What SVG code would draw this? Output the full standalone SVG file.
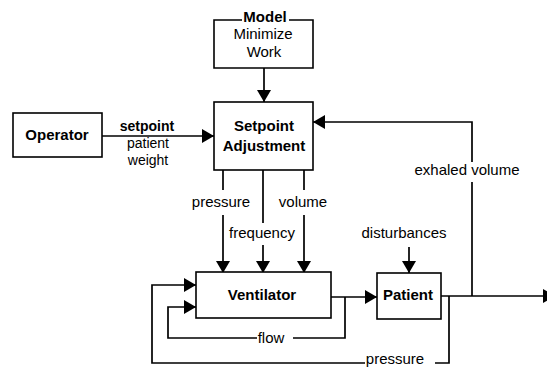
<svg xmlns="http://www.w3.org/2000/svg" width="547" height="367" viewBox="0 0 547 367">
<style>
text{font-family:"Liberation Sans",Arial,sans-serif;font-size:15px;fill:#000;text-anchor:middle}
.b{font-weight:bold}
.s{font-size:14px}
.box{fill:#fff;stroke:#000;stroke-width:1.6}
.ln{fill:none;stroke:#000;stroke-width:1.7}
</style>
<defs>
<marker id="ah" markerWidth="12" markerHeight="14" refX="12" refY="7" orient="auto" markerUnits="userSpaceOnUse">
<path d="M0,0 L12,7 L0,14 z" fill="#000"/>
</marker>
</defs>
<rect width="547" height="367" fill="#fff"/>
<g id="connectors">
<path class="ln" d="M264,68 V102" marker-end="url(#ah)"/>
<path class="ln" d="M102,136 H214" marker-end="url(#ah)"/>
<path class="ln" d="M223,170 V190 M223,215 V273" marker-end="url(#ah)"/>
<path class="ln" d="M263,170 V223 M263,245 V273" marker-end="url(#ah)"/>
<path class="ln" d="M304,170 V190 M304,215 V273" marker-end="url(#ah)"/>
<path class="ln" d="M331,297 H377" marker-end="url(#ah)"/>
<path class="ln" d="M409,247 V273" marker-end="url(#ah)"/>
<path class="ln" d="M345,297 V338 H293"/>
<path class="ln" d="M257,338 H168 V307 H196" marker-end="url(#ah)"/>
<path class="ln" d="M449,296 V363 H435"/>
<path class="ln" d="M365,363 H152 V285 H196" marker-end="url(#ah)"/>
<path class="ln" d="M441,296 H545"/>
<polygon points="543,289 555,296 543,303" fill="#000"/>
<path class="ln" d="M472,296 V182"/>
<path class="ln" d="M472,162 V122 H313" marker-end="url(#ah)"/>
<text x="147" y="131" class="b s">setpoint</text>
<text x="148" y="148" class="s">patient</text>
<text x="148" y="165" class="s">weight</text>
<text x="221" y="207">pressure</text>
<text x="262" y="238">frequency</text>
<text x="303" y="207">volume</text>
<text x="404" y="238">disturbances</text>
<text x="467" y="175">exhaled volume</text>
<text x="271" y="343">flow</text>
<text x="395" y="364">pressure</text>
</g>
<g id="model">
<path class="ln" d="M242,20 H214 V68 H313 V20 H289" style="stroke-width:1.6"/>
<text x="265" y="22" class="b">Model</text>
<text x="263" y="39">Minimize</text>
<text x="264" y="57">Work</text>
</g>
<g id="setpoint-adjustment">
<rect class="box" x="214" y="102" width="99" height="68"/>
<text x="264" y="131" class="b">Setpoint</text>
<text x="264" y="151" class="b">Adjustment</text>
</g>
<g id="operator">
<rect class="box" x="13" y="113" width="89" height="44"/>
<text x="57" y="140" class="b">Operator</text>
</g>
<g id="ventilator">
<rect class="box" x="196" y="272" width="135" height="46"/>
<text x="262" y="300" class="b">Ventilator</text>
</g>
<g id="patient">
<rect class="box" x="377" y="273" width="64" height="46"/>
<text x="408" y="300" class="b">Patient</text>
</g>
</svg>
